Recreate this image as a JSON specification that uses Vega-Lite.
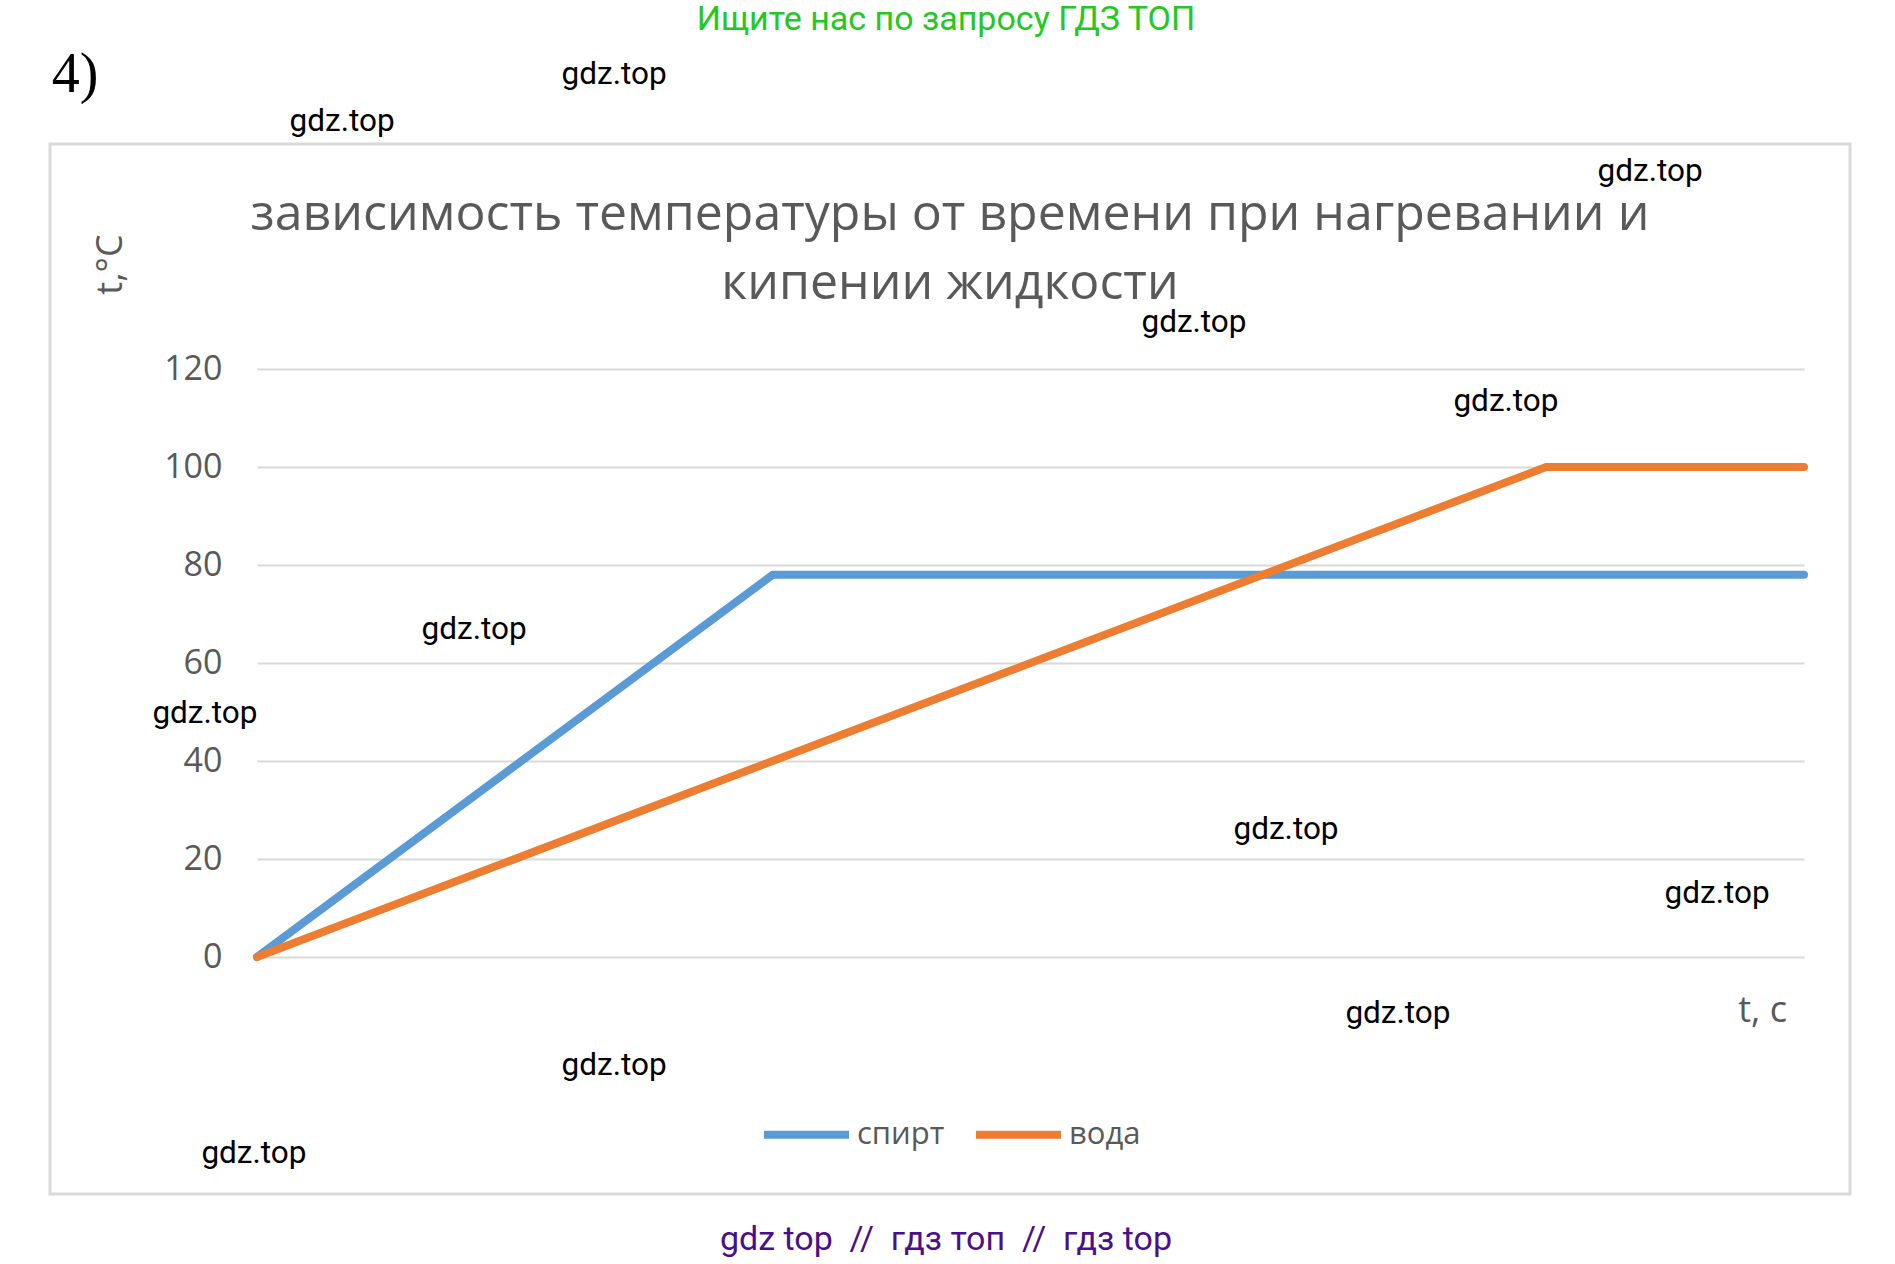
{
  "$schema": "https://vega.github.io/schema/vega-lite/v6.json",
  "width": 1800,
  "height": 1050,
  "autosize": {"type": "none"},
  "padding": {"left": 50, "top": 144, "right": 45, "bottom": 70},
  "background": "white",
  "config": {
    "view": {"stroke": "#d9d9d9", "strokeWidth": 3},
    "font": "Open Sans",
    "legend": {
      "orient": "none",
      "legendX": 710,
      "legendY": 944,
      "direction": "horizontal",
      "symbolType": "stroke",
      "symbolSize": 7225,
      "symbolStrokeWidth": 8,
      "labelFont": "Open Sans",
      "labelFontSize": 31,
      "labelColor": "#595959",
      "labelOffset": 4,
      "columnPadding": 15,
      "padding": 0,
      "labelLimit": 0
    }
  },
  "title": {
    "text": ["зависимость температуры от времени при нагревании и", "кипении жидкости"],
    "font": "Open Sans",
    "fontSize": 50,
    "fontWeight": "normal",
    "color": "#595959",
    "anchor": "middle",
    "frame": "group",
    "offset": 0,
    "lineHeight": 69,
    "baseline": "bottom",
    "dy": 356
  },
  "datasets": {
    "series": [
      {"series": "спирт", "t": 0, "temp": 0},
      {"series": "спирт", "t": 2, "temp": 78},
      {"series": "спирт", "t": 6, "temp": 78},
      {"series": "вода", "t": 0, "temp": 0},
      {"series": "вода", "t": 2, "temp": 40},
      {"series": "вода", "t": 5, "temp": 100},
      {"series": "вода", "t": 6, "temp": 100}
    ],
    "notes": [
      {"kind": "head", "label": "Ищите нас по запросу ГДЗ ТОП", "t": 2.672, "temp": 191.3},
      {"kind": "num", "label": "4)", "t": -0.796, "temp": 180.0},
      {"kind": "foot", "label": "gdz top \u00a0// \u00a0гдз топ \u00a0// \u00a0гдз top", "t": 2.672, "temp": -57.8},
      {"kind": "wm", "label": "gdz.top", "t": 1.385, "temp": 180.0},
      {"kind": "wm", "label": "gdz.top", "t": 0.330, "temp": 170.4},
      {"kind": "wm", "label": "gdz.top", "t": 5.403, "temp": 160.2},
      {"kind": "wm", "label": "gdz.top", "t": 3.634, "temp": 129.4},
      {"kind": "wm", "label": "gdz.top", "t": 4.844, "temp": 113.3},
      {"kind": "wm", "label": "gdz.top", "t": 0.842, "temp": 66.7},
      {"kind": "wm", "label": "gdz.top", "t": -0.202, "temp": 49.6},
      {"kind": "wm", "label": "gdz.top", "t": 3.991, "temp": 25.9},
      {"kind": "wm", "label": "gdz.top", "t": 5.663, "temp": 12.9},
      {"kind": "wm", "label": "gdz.top", "t": 4.425, "temp": -11.6},
      {"kind": "wm", "label": "gdz.top", "t": 1.385, "temp": -22.2},
      {"kind": "wm", "label": "gdz.top", "t": -0.012, "temp": -40.2}
    ]
  },
  "encoding": {
    "x": {
      "field": "t",
      "type": "quantitative",
      "scale": {"domain": [0, 6], "range": [207, 1754], "nice": false, "zero": false},
      "axis": {
        "title": "t, c",
        "labels": false,
        "ticks": false,
        "domain": false,
        "grid": false,
        "titleFont": "Open Sans",
        "titleFontSize": 36,
        "titleFontWeight": "normal",
        "titleColor": "#595959",
        "titleX": 1712,
        "titleY": -184,
        "titleAlign": "center",
        "titleBaseline": "middle"
      }
    },
    "y": {
      "field": "temp",
      "type": "quantitative",
      "scale": {"domain": [0, 120], "range": [813, 225], "nice": false},
      "axis": {
        "title": "t,°C",
        "values": [0, 20, 40, 60, 80, 100, 120],
        "offset": -207,
        "domain": false,
        "ticks": false,
        "tickSize": 0,
        "labelPadding": 35,
        "labelFont": "Open Sans",
        "labelFontSize": 34,
        "labelColor": "#595959",
        "grid": true,
        "gridColor": "#d9d9d9",
        "gridWidth": 2,
        "titleFont": "Open Sans",
        "titleFontSize": 36,
        "titleFontWeight": "normal",
        "titleColor": "#595959",
        "titleAngle": -90,
        "titleX": -147,
        "titleY": 120,
        "titleAlign": "center",
        "titleBaseline": "middle"
      }
    }
  },
  "layer": [
    {
      "data": {"name": "series"},
      "mark": {"type": "line", "strokeWidth": 8, "strokeCap": "round", "strokeJoin": "round"},
      "encoding": {
        "color": {
          "field": "series",
          "type": "nominal",
          "scale": {"domain": ["спирт", "вода"], "range": ["#5b9bd5", "#ed7d31"]},
          "legend": {"title": null, "symbolStrokeWidth": 8, "symbolType": "stroke"}
        }
      }
    },
    {
      "data": {"name": "notes"},
      "transform": [{"filter": "datum.kind === 'wm'"}],
      "mark": {"type": "text", "font": "Roboto", "fontSize": 31.5, "color": "#000000", "align": "center", "baseline": "middle"},
      "encoding": {"text": {"field": "label"}}
    },
    {
      "data": {"name": "notes"},
      "transform": [{"filter": "datum.kind === 'head'"}],
      "mark": {"type": "text", "font": "Roboto", "fontSize": 34, "color": "#22c922", "align": "center", "baseline": "middle"},
      "encoding": {"text": {"field": "label"}}
    },
    {
      "data": {"name": "notes"},
      "transform": [{"filter": "datum.kind === 'num'"}],
      "mark": {"type": "text", "font": "Liberation Serif", "fontSize": 56, "color": "#000000", "align": "left", "baseline": "middle"},
      "encoding": {"text": {"field": "label"}}
    },
    {
      "data": {"name": "notes"},
      "transform": [{"filter": "datum.kind === 'foot'"}],
      "mark": {"type": "text", "font": "Roboto", "fontSize": 34, "color": "#4b0f8a", "align": "center", "baseline": "middle"},
      "encoding": {"text": {"field": "label"}}
    }
  ]
}
